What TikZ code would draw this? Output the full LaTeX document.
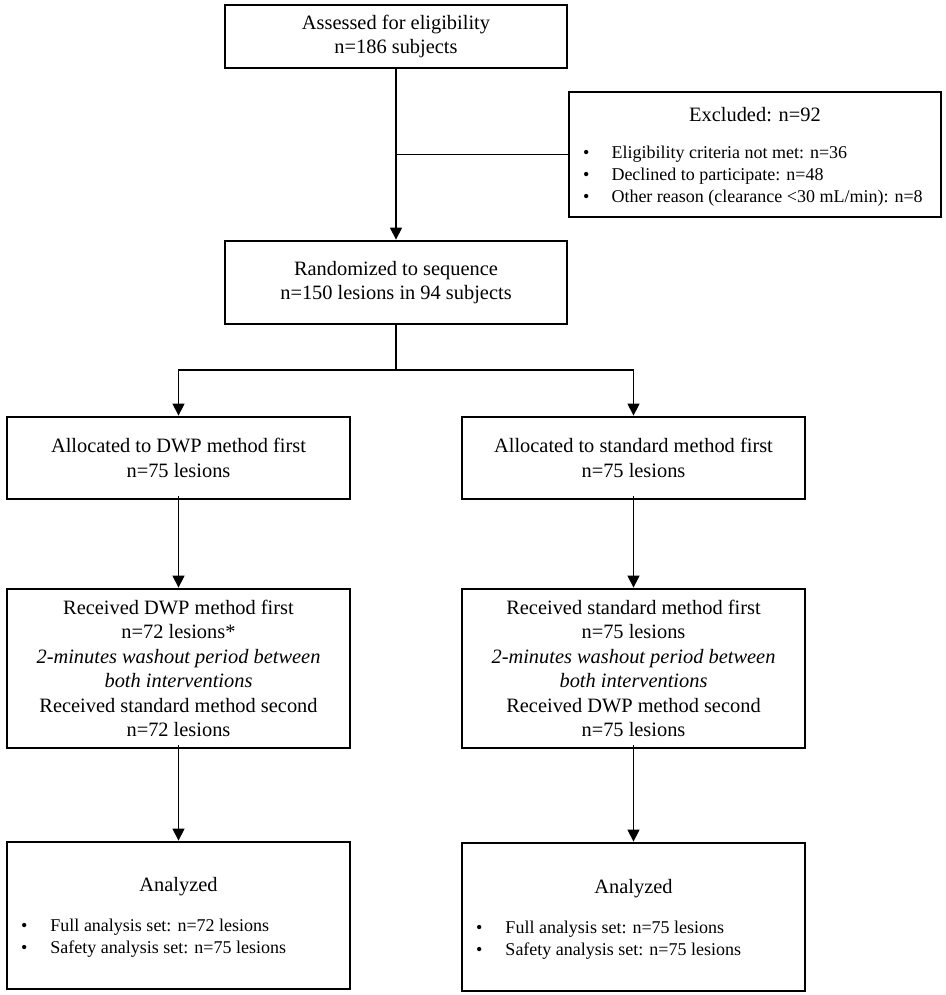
\documentclass[tikz,border=0pt]{standalone}
\usepackage{fontspec}
\setmainfont{Liberation Serif}
\usetikzlibrary{arrows.meta}
\begin{document}
\begin{tikzpicture}[x=1pt,y=-1pt,
  box/.style={draw, line width=2.8pt, inner sep=0pt, align=center, font=\fontsize{20.4}{24.4}\selectfont},
  conn/.style={line width=1.3pt},
  arr/.style={conn, -{Triangle[length=12pt,width=12pt]}},
  ttl/.style={inner sep=0pt, font=\fontsize{20.4}{24.4}\selectfont},
  bul/.style={anchor=base west, inner sep=0pt, font=\fontsize{18}{21.5}\selectfont}]
\useasboundingbox (0,0) rectangle (945,995);
\fill[white] (0,0) rectangle (945,995);
% boxes
\node[box, minimum width=342pt, minimum height=63pt] (top) at (396,36.5) {Assessed for eligibility\\n=186 subjects};
\node[box, minimum width=372pt, minimum height=125pt] (excl) at (755,154.5) {};
\node[ttl] (exclt) at (755,115) {Excluded: n=92};
\node[bul] (ex1) at (583,159) {\textbullet\hspace{22pt}Eligibility criteria not met: n=36};
\node[bul] (ex2) at (583,180.5) {\textbullet\hspace{22pt}Declined to participate: n=48};
\node[bul] (ex3) at (583,202) {\textbullet\hspace{22pt}Other reason (clearance <30 mL/min): n=8};
\node[box, minimum width=342pt, minimum height=83pt] (rand) at (396,282.5) {Randomized to sequence\\n=150 lesions in 94 subjects};
\node[box, minimum width=343pt, minimum height=82pt] (allL) at (178.5,458) {Allocated to DWP method first\\n=75 lesions};
\node[box, minimum width=343pt, minimum height=82pt] (allR) at (633.5,458) {Allocated to standard method first\\n=75 lesions};
\node[box, minimum width=343pt, minimum height=159pt] (recL) at (178.5,668.5) {Received DWP method first\\n=72 lesions*\\\textit{2-minutes washout period between}\\\textit{both interventions}\\Received standard method second\\n=72 lesions};
\node[box, minimum width=343pt, minimum height=159pt] (recR) at (633.5,668.5) {Received standard method first\\n=75 lesions\\\textit{2-minutes washout period between}\\\textit{both interventions}\\Received DWP method second\\n=75 lesions};
\node[box, minimum width=343pt, minimum height=147pt] (anaL) at (178.5,915.5) {};
\node[box, minimum width=343pt, minimum height=148pt] (anaR) at (633.5,917) {};
\node[ttl] (anaLt) at (178.5,887) {Analyzed};
\node[ttl] (anaRt) at (633.5,889) {Analyzed};
\node[bul] (aL1) at (21,931) {\textbullet\hspace{23pt}Full analysis set: n=72 lesions};
\node[bul] (aL2) at (21,953) {\textbullet\hspace{23pt}Safety analysis set: n=75 lesions};
\node[bul] (aR1) at (476,933) {\textbullet\hspace{23pt}Full analysis set: n=75 lesions};
\node[bul] (aR2) at (476,955) {\textbullet\hspace{23pt}Safety analysis set: n=75 lesions};
% connectors
\coordinate (j1) at (top.south |- excl.west);
\draw[arr] (top.south) -- (rand.north);
\draw[conn] (j1) -- (excl.west);
\coordinate (b) at (rand.south |- 0,370);
\draw[conn] (rand.south) -- (b);
\draw[arr] (b) -| (allL.north);
\draw[arr] (b) -| (allR.north);
\draw[arr] ([yshift=4pt]allL.south) -- (recL.north);
\draw[arr] ([yshift=4pt]allR.south) -- (recR.north);
\draw[arr] ([yshift=4pt]recL.south) -- (anaL.north);
\draw[arr] ([yshift=4pt]recR.south) -- (anaR.north);
\end{tikzpicture}
\end{document}
